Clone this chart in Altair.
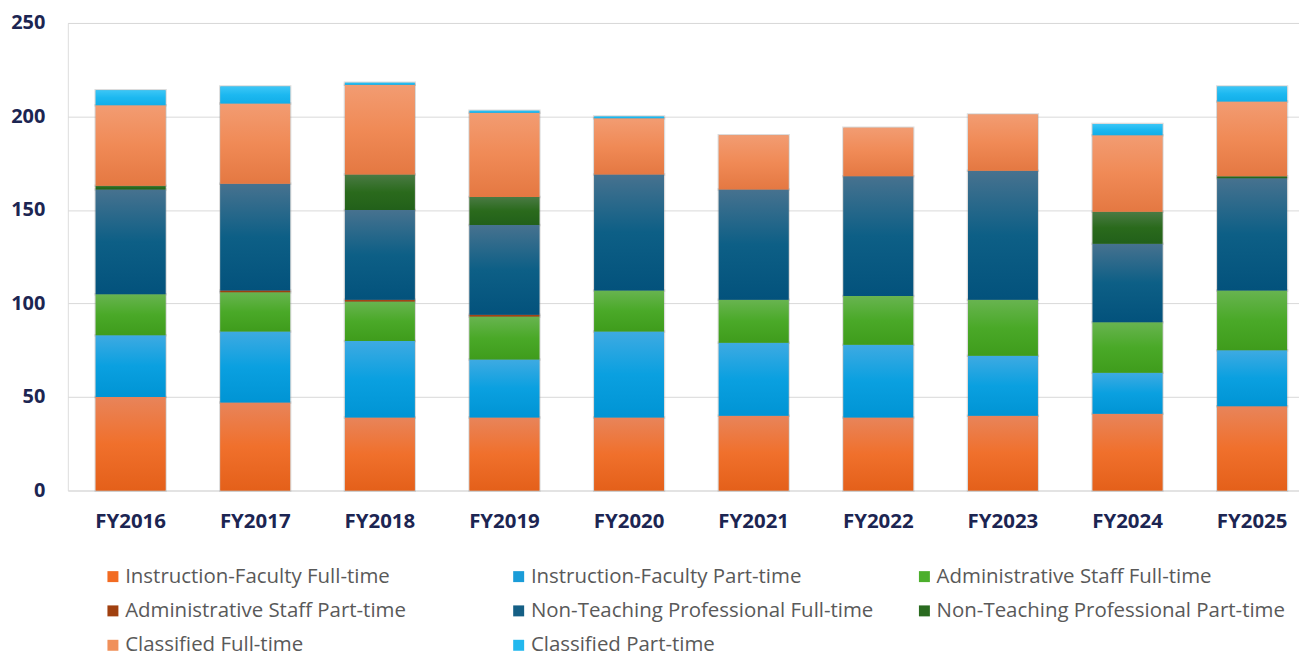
import altair as alt
import pandas as pd

years = ["FY2016", "FY2017", "FY2018", "FY2019", "FY2020",
         "FY2021", "FY2022", "FY2023", "FY2024", "FY2025"]

series_names = [
    "Instruction-Faculty Full-time",
    "Instruction-Faculty Part-time",
    "Administrative Staff Full-time",
    "Administrative Staff Part-time",
    "Non-Teaching Professional Full-time",
    "Non-Teaching Professional Part-time",
    "Classified Full-time",
    "Classified Part-time",
]

if_ft = [50, 47, 39, 39, 39, 40, 39, 40, 41, 45]
if_pt = [33, 38, 41, 31, 46, 39, 39, 32, 22, 30]
adm_ft = [22, 21, 21, 23, 22, 23, 26, 30, 27, 32]
adm_pt = [0, 1, 1, 1, 0, 0, 0, 0, 0, 0]
ntp_ft = [56, 57, 48, 48, 62, 59, 64, 69, 42, 60]
ntp_pt = [2, 0, 19, 15, 0, 0, 0, 0, 17, 1]
cls_ft = [43, 43, 48, 45, 30, 29, 26, 30, 41, 40]
cls_pt = [8, 9, 1, 1, 1, 0, 0, 0, 6, 8]

values = [if_ft, if_pt, adm_ft, adm_pt, ntp_ft, ntp_pt, cls_ft, cls_pt]

legend_colors = ["#f26b22", "#1a9cd8", "#4caf2c", "#a0400f",
                 "#155f85", "#2a6b20", "#f0905a", "#22b8ee"]
grad_top = ["#e8845a", "#3eaae2", "#68b450", "#b0522a",
            "#47728f", "#4a7a44", "#f29c72", "#3cc6f6"]
grad_mid = ["#f0702c", "#0aa0e0", "#4aa928", "#a0400f",
            "#0d5f86", "#2a6a1c", "#f08a56", "#1cb8f0"]
grad_bot = ["#e4601a", "#0094d4", "#3f9c1c", "#923a0c",
            "#03527c", "#22601a", "#e47842", "#12aee8"]

rows = []
for i, yr in enumerate(years):
    acc = 0
    for k, name in enumerate(series_names):
        v = values[k][i]
        rows.append({"year": yr, "series": name, "order": k,
                     "value": v, "y0": acc, "y1": acc + v})
        acc += v
df = pd.DataFrame(rows)

navy = "#1c2552"

x_enc = alt.X(
    "year:N", sort=years, title=None,
    scale=alt.Scale(paddingInner=0.44, paddingOuter=0.16, align=0.7),
    axis=alt.Axis(labelAngle=0, ticks=False, domain=False, grid=False,
                  labelFont="Open Sans", labelFontWeight="bold",
                  labelFontSize=20.5, labelColor=navy, labelPadding=21),
)
y_enc = alt.Y(
    "y0:Q", title=None,
    scale=alt.Scale(domain=[0, 250], nice=False),
    axis=alt.Axis(values=[0, 50, 100, 150, 200, 250], ticks=False, domain=False,
                  grid=True, gridColor="#d9d9d9", gridWidth=1,
                  labelFont="Open Sans", labelFontWeight="bold",
                  labelFontSize=20, labelColor=navy, labelPadding=23),
)

base = alt.Chart(df).transform_filter("datum.value > 0").mark_bar(
    stroke="#8a8a8a", strokeWidth=2.5, strokeOpacity=0.3
).encode(
    x=x_enc,
    y=y_enc,
    y2="y1:Q",
    color=alt.Color(
        "series:N",
        scale=alt.Scale(domain=series_names, range=legend_colors),
        legend=alt.Legend(
            title=None, orient="none", legendX=35, legendY=545,
            columns=3, direction="horizontal", symbolType="square",
            symbolSize=121, symbolStrokeWidth=0, labelFont="Open Sans",
            labelFontSize=20.5, labelColor="#595959", labelLimit=0,
            labelOffset=2, columnPadding=34, rowPadding=13.5,
            gridAlign="all", padding=0,
        ),
    ),
)

layers = [base]
for k, name in enumerate(series_names):
    grad = alt.LinearGradient(
        gradient="linear",
        stops=[
            alt.GradientStop(offset=0, color=grad_top[k]),
            alt.GradientStop(offset=0.5, color=grad_mid[k]),
            alt.GradientStop(offset=1, color=grad_bot[k]),
        ],
        x1=0, x2=0, y1=0, y2=1,
    )
    layers.append(
        alt.Chart(df)
        .transform_filter(f"datum.series == '{name}' && datum.value > 0")
        .mark_bar(fill=grad)
        .encode(x=x_enc, y=y_enc, y2="y1:Q")
    )

chart = alt.layer(*layers).properties(
    width=1235, height=469,
    autosize=alt.AutoSizeParams(type="none"),
    padding={"left": 60, "top": 14, "right": 0, "bottom": 168},
).configure_view(stroke=None).configure(background="white")

chart.save("out.html", embed_options={"renderer": "svg", "actions": False})
